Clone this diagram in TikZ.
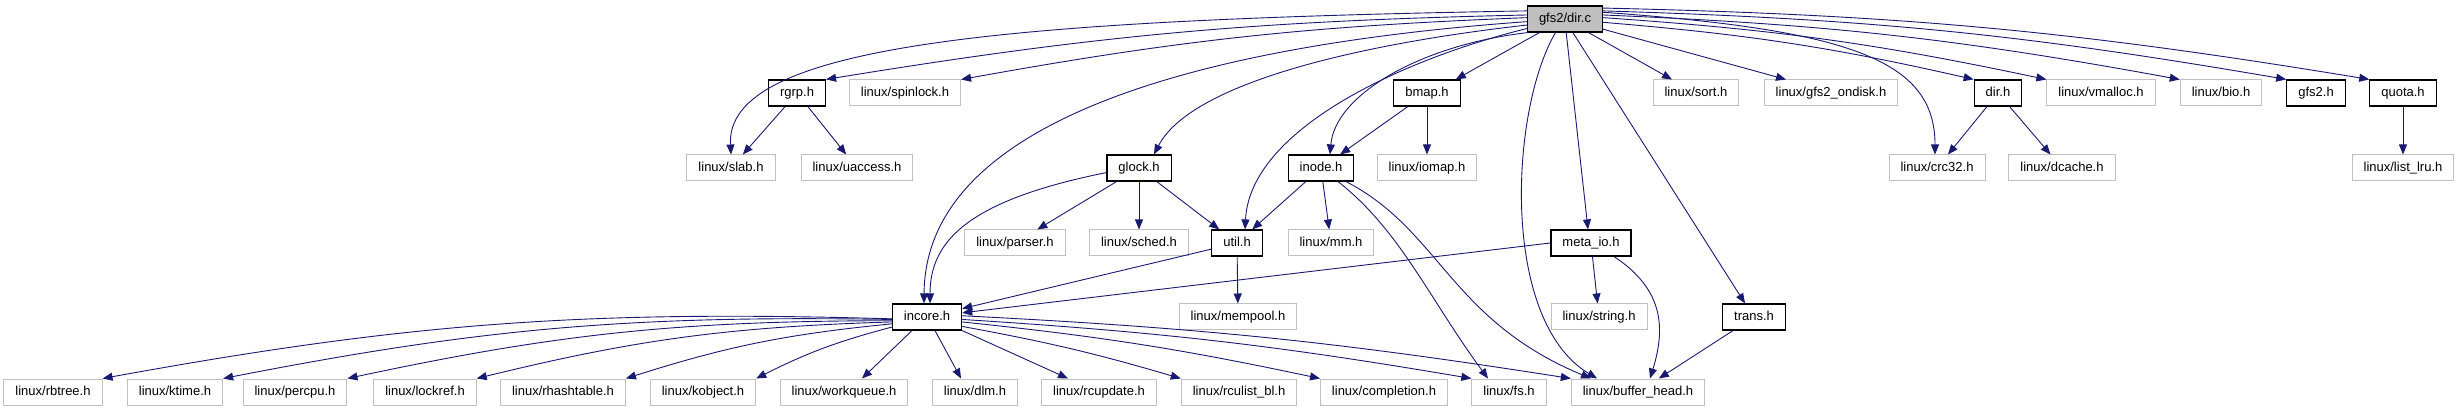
\documentclass[tikz,border=0pt]{standalone}
\usepackage{fontspec}
\setmainfont{Liberation Sans}
\usetikzlibrary{arrows.meta}
\definecolor{edgeblue}{HTML}{191970}
\definecolor{srcgray}{HTML}{BFBFBF}
\definecolor{extgray}{HTML}{C0C0C0}
\begin{document}
\begin{tikzpicture}[x=1pt,y=-1pt,
    box/.style={rectangle,minimum height=26pt,inner xsep=11.5pt,inner ysep=0pt,
      text height=9.5pt,text depth=2.8pt,font=\fontsize{13}{15}\selectfont},
    src/.style={box,draw=black,line width=1.2pt,fill=srcgray},
    hdr/.style={box,draw=black,line width=1.2pt,fill=white},
    ext/.style={box,draw=extgray,line width=1pt,fill=white},
    dep/.style={draw=edgeblue,line width=0.9pt,
      -{Triangle[length=10pt,width=8pt]}}]
  \useasboundingbox (0,0) rectangle (2459,411);
  % source file
  \node[src] (dirc) at (1565,19) {gfs2/dir.c};
  % first level
  \node[hdr] (rgrp) at (797,93) {rgrp.h};
  \node[ext] (spinlock) at (905,93) {linux/spinlock.h};
  \node[hdr] (bmap) at (1427,93) {bmap.h};
  \node[ext] (sort) at (1696,93) {linux/sort.h};
  \node[ext] (ondisk) at (1831,93) {linux/gfs2\_ondisk.h};
  \node[hdr] (dirh) at (1998,93) {dir.h};
  \node[ext] (vmalloc) at (2101,93) {linux/vmalloc.h};
  \node[ext] (bio) at (2221,93) {linux/bio.h};
  \node[hdr] (gfstwo) at (2316,93) {gfs2.h};
  \node[hdr] (quota) at (2403,93) {quota.h};
  % second level
  \node[ext] (slab) at (731,168) {linux/slab.h};
  \node[ext] (uaccess) at (857,168) {linux/uaccess.h};
  \node[hdr] (glock) at (1139,168) {glock.h};
  \node[hdr] (inode) at (1321,168) {inode.h};
  \node[ext] (iomap) at (1427,168) {linux/iomap.h};
  \node[ext] (crc) at (1937,168) {linux/crc32.h};
  \node[ext] (dcache) at (2062,168) {linux/dcache.h};
  \node[ext] (listlru) at (2403,168) {linux/list\_lru.h};
  % third level
  \node[ext] (parser) at (1015,243) {linux/parser.h};
  \node[ext] (sched) at (1139,243) {linux/sched.h};
  \node[hdr] (util) at (1237,243) {util.h};
  \node[ext] (mm) at (1331,243) {linux/mm.h};
  \node[hdr] (metaio) at (1591,243) {meta\_io.h};
  % fourth level
  \node[hdr] (incore) at (927,317) {incore.h};
  \node[ext] (mempool) at (1238,317) {linux/mempool.h};
  \node[ext] (string) at (1599,317) {linux/string.h};
  \node[hdr] (trans) at (1754,317) {trans.h};
  % bottom row
  \node[ext] (rbtree) at (53,392) {linux/rbtree.h};
  \node[ext] (ktime) at (175,392) {linux/ktime.h};
  \node[ext] (percpu) at (295,392) {linux/percpu.h};
  \node[ext] (lockref) at (425,392) {linux/lockref.h};
  \node[ext] (rhash) at (563,392) {linux/rhashtable.h};
  \node[ext] (kobject) at (703,392) {linux/kobject.h};
  \node[ext] (workqueue) at (844,392) {linux/workqueue.h};
  \node[ext] (dlm) at (975,392) {linux/dlm.h};
  \node[ext] (rcupdate) at (1099,392) {linux/rcupdate.h};
  \node[ext] (rculist) at (1239,392) {linux/rculist\_bl.h};
  \node[ext] (completion) at (1384,392) {linux/completion.h};
  \node[ext] (fs) at (1509,392) {linux/fs.h};
  \node[ext] (bufhead) at (1638,392) {linux/buffer\_head.h};

  % edges out of gfs2/dir.c
  \draw[dep] (dirc.168) .. controls (1000,20) and (725,45) .. (slab.north);
  \draw[dep] (dirc.174) to[bend right=4] (rgrp.north east);
  \draw[dep] (dirc.178) to[bend right=4] (spinlock.north east);
  \draw[dep] (dirc.184) .. controls (1200,45) and (925,120) .. ([xshift=-3pt]incore.north);
  \draw[dep] (dirc.189) .. controls (1350,45) and (1190,85) .. ([xshift=15pt]glock.north);
  \draw[dep] (dirc.194) .. controls (1400,60) and (1250,130) .. ([xshift=8pt]util.north);
  \draw[dep] (dirc.200) .. controls (1420,45) and (1335,95) .. ([xshift=9pt]inode.north);
  \draw[dep] (dirc.208) -- ([xshift=-5pt]bmap.north east);
  \draw[dep] (dirc.235) .. controls (1510,110) and (1500,320) .. ([xshift=-41pt]bufhead.north);
  \draw[dep] (dirc.275) -- ([xshift=-3pt]metaio.north);
  \draw[dep] (dirc.300) -- ([xshift=-9pt]trans.north);
  \draw[dep] (dirc.330) -- ([xshift=-24pt]sort.north);
  \draw[dep] (dirc.345) -- ([xshift=-45pt]ondisk.north);
  \draw[dep] (dirc.355) to[bend left=4] (dirh.north west);
  \draw[dep] (dirc.10) .. controls (1850,30) and (1935,60) .. ([xshift=-2pt]crc.north);
  \draw[dep] (dirc.2) to[bend left=4] (vmalloc.north west);
  \draw[dep] (dirc.6) to[bend left=4] (bio.north west);
  \draw[dep] (dirc.12) to[bend left=4] (gfstwo.north west);
  \draw[dep] (dirc.16) to[bend left=4] (quota.north west);

  % first level headers
  \draw[dep] (rgrp) -- (slab);
  \draw[dep] (rgrp) -- (uaccess);
  \draw[dep] (bmap) -- (inode);
  \draw[dep] (bmap) -- (iomap);
  \draw[dep] (dirh) -- (crc);
  \draw[dep] (dirh) -- (dcache);
  \draw[dep] (quota) -- (listlru);

  % second level headers
  \draw[dep] (glock.188) .. controls (970,200) and (930,240) .. ([xshift=3pt]incore.north);
  \draw[dep] (glock) -- (parser);
  \draw[dep] (glock) -- (sched);
  \draw[dep] (glock) -- (util);
  \draw[dep] (inode) -- (util);
  \draw[dep] (inode) -- (mm);
  \draw[dep] ([xshift=17pt]inode.south) .. controls (1400,230) and (1430,300) .. ([xshift=-21pt]fs.north);
  \draw[dep] ([xshift=25pt]inode.south) .. controls (1440,230) and (1450,320) .. ([xshift=-47pt]bufhead.north);

  % third level headers
  \draw[dep] (util) -- (incore);
  \draw[dep] (util) -- (mempool);
  \draw[dep] (metaio.west) -- (incore);
  \draw[dep] (metaio) -- (string);
  \draw[dep] ([xshift=23pt]metaio.south) .. controls (1665,290) and (1665,330) .. ([xshift=12pt]bufhead.north);
  \draw[dep] (trans) -- (bufhead);

  % incore.h fan
  \foreach \n/\a in {rbtree/183,ktime/184,percpu/186,lockref/188,rhash/191,kobject/196}
    \draw[dep] (incore.\a) to[bend right=6] (\n.north east);
  \draw[dep] ([xshift=-15pt]incore.south) -- ([xshift=18pt]workqueue.north);
  \draw[dep] ([xshift=8pt]incore.south) -- ([xshift=-14pt]dlm.north);
  \draw[dep] (incore.south east) -- ([xshift=-31pt]rcupdate.north);
  \foreach \n/\a in {rculist/345,completion/352,fs/356,bufhead/2}
    \draw[dep] (incore.\a) to[bend left=3] (\n.north west);
\end{tikzpicture}
\end{document}
